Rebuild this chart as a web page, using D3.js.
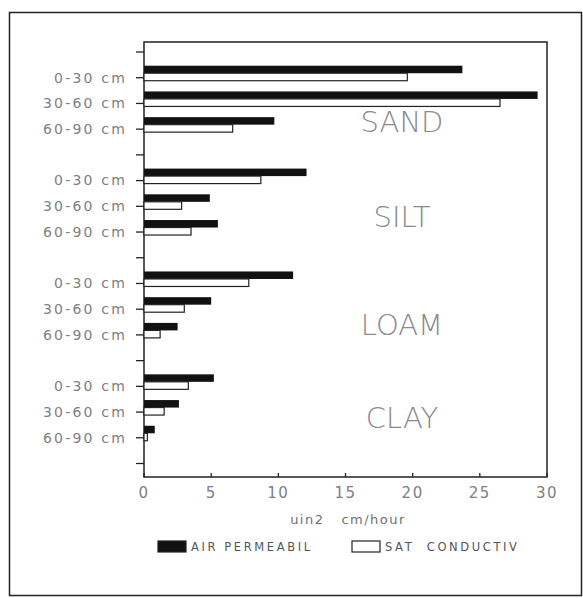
<!DOCTYPE html>
<html><head><meta charset="utf-8">
<script src="https://cdn.jsdelivr.net/npm/d3@7/dist/d3.min.js"></script>
<style>body{margin:0;background:#fff}svg{display:block}</style>
</head><body>
<script>
const categories = ["SAND", "SILT", "LOAM", "CLAY"];
const depths = ["0-30 cm", "30-60 cm", "60-90 cm"];
const airPermeability = [23.7, 29.3, 9.7, 12.1, 4.9, 5.5, 11.1, 5.0, 2.5, 5.2, 2.6, 0.8];
const satConductivity = [19.6, 26.5, 6.6, 8.7, 2.8, 3.5, 7.8, 3.0, 1.2, 3.3, 1.5, 0.25];
const xTicks = [0, 5, 10, 15, 20, 25, 30];
const seriesNames = ["AIR PERMEABIL", "SAT  CONDUCTIV"];
const xTitle = "uin2   cm/hour";

const W = 583, H = 598;
const svg = d3.select("body").append("svg").attr("width", W).attr("height", H);

// outer frame
svg.append("rect").attr("x", 9.5).attr("y", 12.5).attr("width", 572).attr("height", 583)
  .attr("fill", "none").attr("stroke", "#222").attr("stroke-width", 1.5);

const x = d3.scaleLinear().domain([0, 30]).range([144, 547]);
const nSlots = categories.length * (depths.length + 1);
const y = d3.scaleLinear().domain([0, nSlots]).range([52, 463.5]);
const plotTop = 42, plotBottom = 477;

// plot frame
svg.append("rect").attr("x", x(0)).attr("y", plotTop).attr("width", x(30) - x(0)).attr("height", plotBottom - plotTop)
  .attr("fill", "none").attr("stroke", "#222").attr("stroke-width", 1.5);

// rows
const rows = [];
categories.forEach((c, g) => depths.forEach((d, k) => {
  const i = g * depths.length + k;
  rows.push({cat: c, depth: d, slot: g * (depths.length + 1) + k + 1, air: airPermeability[i], sat: satConductivity[i]});
}));

// y ticks (labels + separators)
const tickSlots = d3.range(0, nSlots + 1);
svg.append("g").selectAll("line").data(tickSlots).join("line")
  .attr("x1", x(0) - 8).attr("x2", x(0)).attr("y1", d => y(d)).attr("y2", d => y(d))
  .attr("stroke", "#222").attr("stroke-width", 1.3);

svg.append("g").selectAll("text").data(rows).join("text")
  .attr("x", 127).attr("y", d => y(d.slot)).attr("dy", "0.35em")
  .attr("text-anchor", "end").attr("font-family", "DejaVu Sans, sans-serif").attr("font-size", 14)
  .attr("letter-spacing", "2.2px").attr("fill", "#808080").text(d => d.depth);

// bars
const barH = 7.5;
svg.append("g").selectAll("rect").data(rows).join("rect")
  .attr("x", x(0)).attr("y", d => y(d.slot) - 4.5 - barH)
  .attr("width", d => x(d.air) - x(0)).attr("height", barH).attr("fill", "#111");
svg.append("g").selectAll("rect").data(rows).join("rect")
  .attr("x", x(0)).attr("y", d => y(d.slot) - 4.5)
  .attr("width", d => x(d.sat) - x(0)).attr("height", barH)
  .attr("fill", "#fff").attr("stroke", "#222").attr("stroke-width", 1.2);

// group labels
const labelDy = [0.2, -0.1, 0.1, -0.3];
svg.append("g").selectAll("text").data(categories).join("text")
  .attr("x", 402).attr("y", (d, g) => y(g * (depths.length + 1) + 2.5 + labelDy[g]))
  .attr("dy", "0.36em").attr("text-anchor", "middle")
  .attr("font-family", "'DejaVu Sans ExtraLight', 'DejaVu Sans', sans-serif").attr("font-weight", 200).attr("font-size", 29)
  .attr("fill", "#8a8a8a").text(d => d);

// x axis ticks
svg.append("g").selectAll("line").data(xTicks).join("line")
  .attr("x1", d => x(d)).attr("x2", d => x(d)).attr("y1", plotBottom).attr("y2", plotBottom - 4)
  .attr("stroke", "#222").attr("stroke-width", 1.3);
svg.append("g").selectAll("text").data(xTicks).join("text")
  .attr("x", d => x(d)).attr("y", 493).attr("dy", "0.35em").attr("text-anchor", "middle")
  .attr("font-family", "DejaVu Sans, sans-serif").attr("font-size", 15).attr("letter-spacing", "1.5px")
  .attr("fill", "#808080").text(d => d);

svg.append("text").attr("x", 348).attr("y", 519).attr("dy", "0.35em").attr("text-anchor", "middle")
  .attr("font-family", "DejaVu Sans, sans-serif").attr("font-size", 13).attr("letter-spacing", "1.5px")
  .attr("fill", "#707070").style("white-space", "pre").text(xTitle);

// legend
const leg = [{x: 158, fill: "#111"}, {x: 352, fill: "#fff"}];
leg.forEach((l, i) => {
  svg.append("rect").attr("x", l.x).attr("y", 541).attr("width", 28).attr("height", 11)
    .attr("fill", l.fill).attr("stroke", "#222").attr("stroke-width", 1.2);
  svg.append("text").attr("x", l.x + 33).attr("y", 547).attr("dy", "0.35em")
    .attr("font-family", "DejaVu Sans, sans-serif").attr("font-size", 11.5).attr("letter-spacing", "2.6px")
    .attr("fill", "#555").style("white-space", "pre").text(seriesNames[i]);
});
</script>
</body></html>
